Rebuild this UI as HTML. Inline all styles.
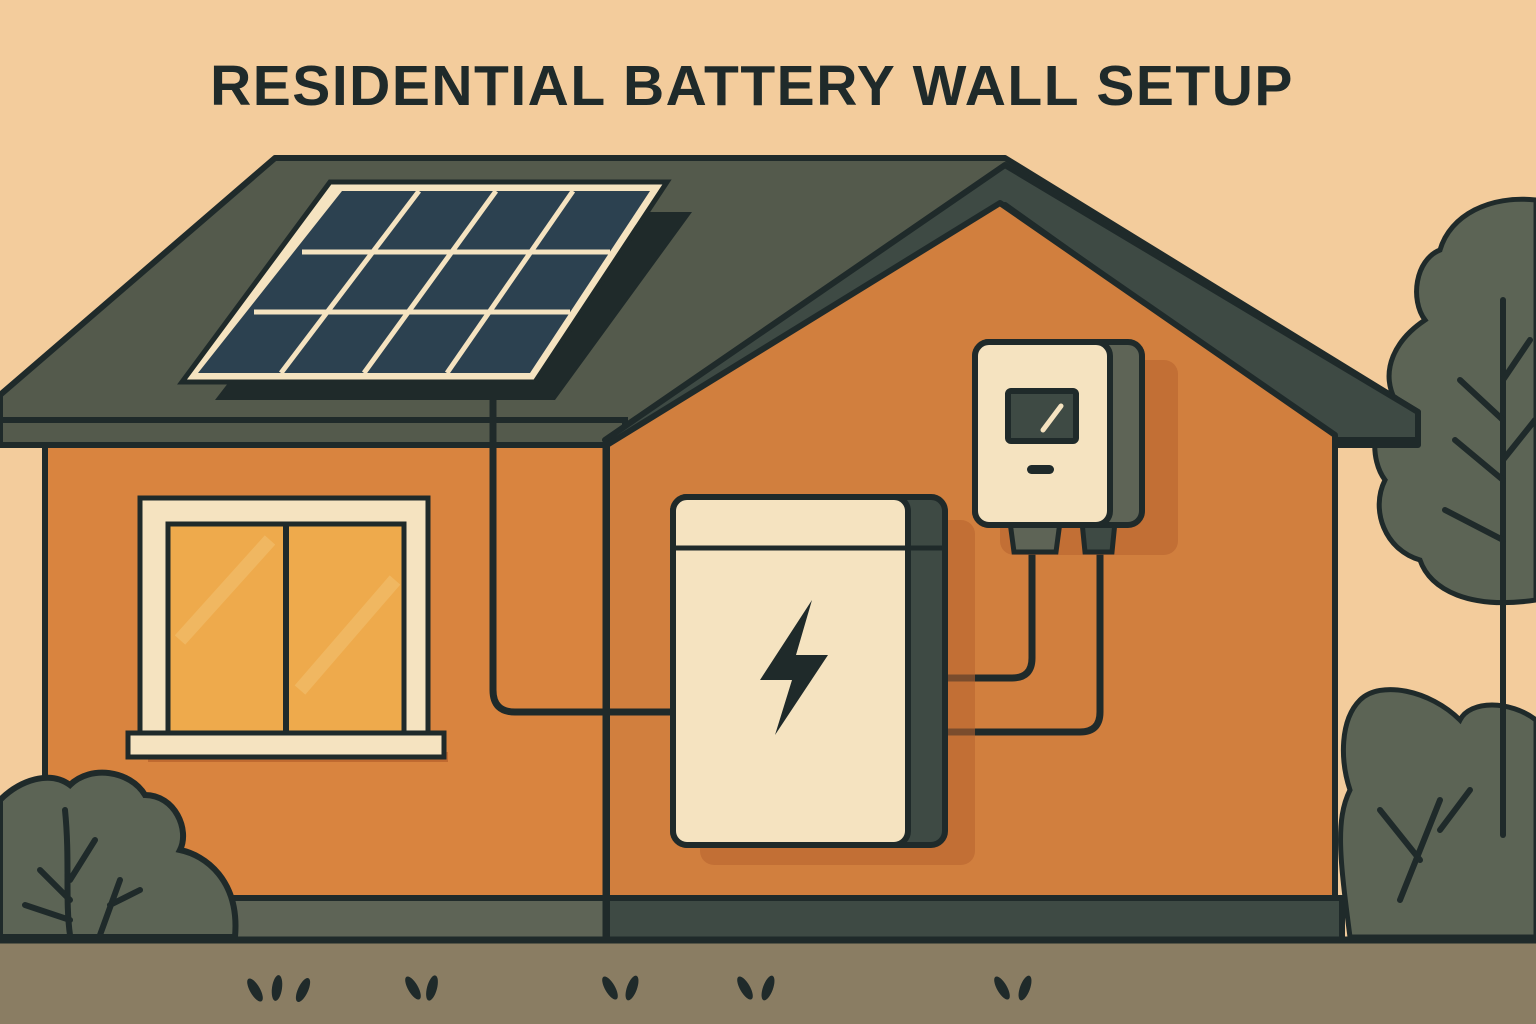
<!DOCTYPE html>
<html><head><meta charset="utf-8"><style>
html,body{margin:0;padding:0;background:#f3cc9c;}
svg{display:block}
</style></head><body>
<svg width="1536" height="1024" viewBox="0 0 1536 1024" xmlns="http://www.w3.org/2000/svg">
<rect width="1536" height="1024" fill="#f3cc9c"/>
<text x="752" y="105" text-anchor="middle" font-family="Liberation Sans, sans-serif" font-weight="bold" font-size="57" fill="#1f2a2a" letter-spacing="1.5">RESIDENTIAL BATTERY WALL SETUP</text>

<!-- right trees -->
<g fill="#5c6455" stroke="#1f2a2a" stroke-width="5">
<path d="M1536 200 C1490 195 1450 215 1440 250 C1415 260 1410 300 1425 320 C1395 340 1380 370 1395 400 C1370 420 1370 460 1385 480 C1370 510 1385 550 1420 560 C1430 590 1470 610 1536 600 Z"/>
<path d="M1536 720 C1510 700 1470 700 1460 720 C1430 690 1380 680 1360 700 C1340 720 1340 760 1350 790 C1335 820 1340 860 1350 937 L1536 937 Z"/>
</g>
<g stroke="#1f2a2a" stroke-width="6" fill="none" stroke-linecap="round">
<path d="M1503 300 L1503 835"/>
<path d="M1503 420 L1460 380 M1503 480 L1455 440 M1503 540 L1445 510 M1503 380 L1530 340 M1503 460 L1535 420"/>
<path d="M1400 900 L1440 800 M1420 860 L1380 810 M1440 830 L1470 790"/>
</g>

<!-- roof -->
<polygon points="0,395 275,158 1005,158 1418,412 1418,445 1335,445 1335,898 45,898 45,445 0,445" fill="#545a4c" stroke="#1f2a2a" stroke-width="6" stroke-linejoin="round"/>
<rect x="45" y="445" width="562" height="453" fill="#d9843f" stroke="#1f2a2a" stroke-width="6"/>
<rect x="0" y="420" width="625" height="25" fill="#545a4c" stroke="#1f2a2a" stroke-width="6"/>
<polygon points="605,440 1005,165 1418,412 1418,440 1335,440 1005,205 625,445" fill="#3e4a44" stroke="#1f2a2a" stroke-width="6" stroke-linejoin="round"/>
<polygon points="607,445 1000,203 1335,435 1335,898 607,898" fill="#d17f3e" stroke="#1f2a2a" stroke-width="6" stroke-linejoin="round"/>

<!-- foundation -->
<rect x="0" y="898" width="607" height="42" fill="#5e6456" stroke="#1f2a2a" stroke-width="6"/>
<rect x="607" y="898" width="735" height="42" fill="#3e4a44" stroke="#1f2a2a" stroke-width="6"/>
<rect x="0" y="940" width="1536" height="84" fill="#8a7d63"/>
<line x1="0" y1="940" x2="1536" y2="940" stroke="#1f2a2a" stroke-width="7"/>
<g fill="#1f2a2a">
<ellipse cx="255" cy="990" rx="5" ry="13" transform="rotate(-30 255 990)"/><ellipse cx="277" cy="988" rx="5" ry="13" transform="rotate(8 277 988)"/><ellipse cx="303" cy="990" rx="5" ry="13" transform="rotate(25 303 990)"/>
<ellipse cx="413" cy="988" rx="5" ry="13" transform="rotate(-30 413 988)"/><ellipse cx="432" cy="988" rx="5" ry="13" transform="rotate(15 432 988)"/>
<ellipse cx="610" cy="988" rx="5" ry="13" transform="rotate(-30 610 988)"/><ellipse cx="632" cy="988" rx="5" ry="13" transform="rotate(20 632 988)"/>
<ellipse cx="745" cy="988" rx="5" ry="13" transform="rotate(-30 745 988)"/><ellipse cx="768" cy="988" rx="5" ry="13" transform="rotate(20 768 988)"/>
<ellipse cx="1002" cy="988" rx="5" ry="13" transform="rotate(-30 1002 988)"/><ellipse cx="1025" cy="988" rx="5" ry="13" transform="rotate(20 1025 988)"/>
</g>

<!-- left bush -->
<path d="M0 800 C20 780 50 770 70 785 C90 765 130 770 145 795 C175 795 190 830 180 850 C205 855 240 880 235 937 L0 937 Z" fill="#5c6455" stroke="#1f2a2a" stroke-width="6"/>
<g stroke="#1f2a2a" stroke-width="6" fill="none" stroke-linecap="round">
<path d="M70 935 C65 900 70 860 65 810 M70 900 L40 870 M70 880 L95 840 M70 920 L25 905 M100 935 L120 880 M110 905 L140 890"/>
</g>

<!-- solar panel -->
<polygon points="360,212 692,212 555,400 215,400" fill="#1f2a2a"/>
<polygon points="330,182 667,182 535,382 182,382" fill="#f5e3c0" stroke="#1f2a2a" stroke-width="5"/>
<polygon points="342,191 650,191 530,373 198,373" fill="#2c4150"/>
<g stroke="#f5e3c0" stroke-width="5">
<line x1="419" y1="191" x2="281" y2="373"/>
<line x1="496" y1="191" x2="364" y2="373"/>
<line x1="573" y1="191" x2="447" y2="373"/>
<line x1="302" y1="252" x2="610" y2="252"/>
<line x1="254" y1="312" x2="570" y2="312"/>
</g>

<!-- window -->
<rect x="148" y="752" width="300" height="10" fill="#c06a30"/>
<rect x="140" y="498" width="288" height="240" fill="#f5e3c0" stroke="#1f2a2a" stroke-width="5"/>
<rect x="168" y="524" width="236" height="210" fill="#eeaa4c" stroke="#1f2a2a" stroke-width="5"/>
<g stroke="#f2bd6a" stroke-width="14" opacity="0.7"><line x1="180" y1="640" x2="270" y2="540"/><line x1="300" y1="690" x2="395" y2="580"/></g>
<line x1="286" y1="524" x2="286" y2="734" stroke="#1f2a2a" stroke-width="6"/>
<rect x="128" y="733" width="316" height="24" fill="#f5e3c0" stroke="#1f2a2a" stroke-width="5"/>

<!-- cables -->
<g stroke="#1f2a2a" stroke-width="7" fill="none" stroke-linejoin="round">
<path d="M493 400 L493 690 Q493 712 515 712 L675 712"/>
<line x1="606" y1="445" x2="606" y2="940"/>
<path d="M1032 550 L1032 658 Q1032 678 1012 678 L940 678"/>
<path d="M1100 550 L1100 712 Q1100 732 1080 732 L928 732"/>
</g>

<!-- battery -->
<rect x="700" y="520" width="275" height="345" rx="14" fill="#b86430" opacity="0.6"/>
<rect x="673" y="497" width="272" height="348" rx="14" fill="#3e4a44" stroke="#1f2a2a" stroke-width="6"/>
<rect x="673" y="497" width="235" height="348" rx="14" fill="#f5e3c0" stroke="#1f2a2a" stroke-width="6"/>
<line x1="676" y1="548" x2="942" y2="548" stroke="#1f2a2a" stroke-width="5"/>
<polygon points="812,600 760,680 792,680 775,735 828,655 796,655" fill="#1f2a2a"/>

<!-- inverter -->
<rect x="1000" y="360" width="178" height="195" rx="14" fill="#b86430" opacity="0.6"/>
<path d="M1010 522 L1060 522 L1056 552 L1014 552 Z" fill="#5e6456" stroke="#1f2a2a" stroke-width="5"/>
<path d="M1082 522 L1115 522 L1112 552 L1085 552 Z" fill="#3e4a44" stroke="#1f2a2a" stroke-width="5"/>
<rect x="975" y="342" width="167" height="183" rx="14" fill="#5e6456" stroke="#1f2a2a" stroke-width="6"/>
<rect x="975" y="342" width="135" height="183" rx="14" fill="#f5e3c0" stroke="#1f2a2a" stroke-width="6"/>
<rect x="1008" y="391" width="68" height="50" rx="3" fill="#3e4a44" stroke="#1f2a2a" stroke-width="6"/>
<line x1="1043" y1="430" x2="1061" y2="406" stroke="#f5e3c0" stroke-width="5" stroke-linecap="round"/>
<rect x="1027" y="465" width="27" height="9" rx="4.5" fill="#1f2a2a"/>
</svg>
</body></html>
